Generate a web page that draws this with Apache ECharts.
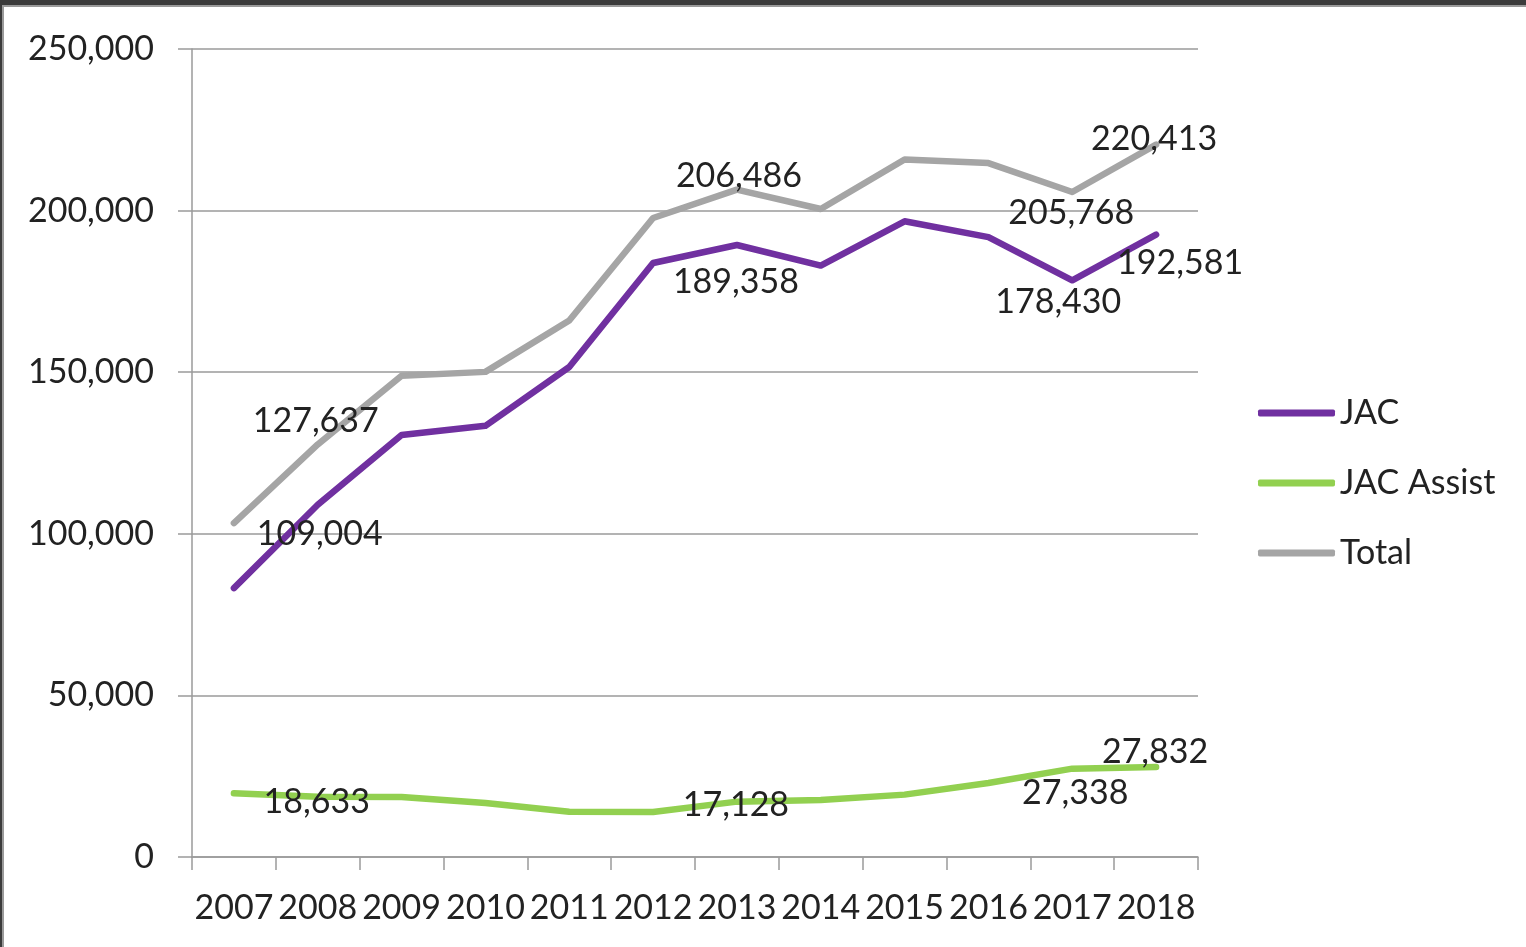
<!DOCTYPE html>
<html>
<head>
<meta charset="utf-8">
<script src="https://cdn.jsdelivr.net/npm/echarts@6/dist/echarts.min.js"></script>
<style>
  html, body { margin: 0; padding: 0; background: #ffffff; }
  #chart { position: absolute; left: 0; top: 0; width: 1526px; height: 947px; }
  .frame { position: absolute; pointer-events: none; }
</style>
</head>
<body>
<div id="chart"></div>
<div class="frame" style="left:0;top:0;width:1526px;height:5px;background:#3b3b3b;"></div>
<div class="frame" style="left:0;top:5px;width:1526px;height:2px;background:#9a9a9a;"></div>
<div class="frame" style="left:0;top:0;width:2px;height:947px;background:#3b3b3b;"></div>
<div class="frame" style="left:2px;top:5px;width:2px;height:942px;background:#9a9a9a;"></div>
<script>
// ---- data ----
const years = ['2007','2008','2009','2010','2011','2012','2013','2014','2015','2016','2017','2018'];
const jac       = [83200, 109004, 130600, 133400, 151600, 183800, 189358, 183000, 196700, 191800, 178430, 192581];
const jacAssist = [19700, 18633, 18600, 16700, 14000, 13900, 17128, 17600, 19300, 22900, 27338, 27832];
const total     = [103300, 127637, 148900, 150100, 166000, 197700, 206486, 200500, 215800, 214700, 205768, 220413];
const yTicks = { min: 0, max: 250000, interval: 50000 };

// ---- which points carry a data label, and where (offset from the point) ----
const labelOffsets = {
  'JAC':        { 1: [2, 29], 6: [-1, 37], 10: [-14, 22], 11: [24, 28] },
  'JAC Assist': { 1: [-1, 5], 6: [-1, 3], 10: [3, 24], 11: [-1, -15] },
  'Total':      { 1: [-2, -23], 6: [2, -14], 10: [-1, 21], 11: [-2, -6] }
};

const FONT = 'Lato';
const TXT = '#222222';
const fmt = v => Number(v).toLocaleString('en-US');

function buildData(name, values) {
  const spots = labelOffsets[name] || {};
  return values.map((v, i) => {
    if (spots[i]) {
      return {
        value: v,
        label: {
          show: true,
          position: 'inside',
          offset: spots[i],
          formatter: p => fmt(p.value),
          fontFamily: FONT, fontSize: 34, color: TXT
        }
      };
    }
    return v;
  });
}

function lineSeries(name, values, color) {
  return {
    name: name,
    type: 'line',
    data: buildData(name, values),
    symbol: 'circle',
    symbolSize: 1,
    showSymbol: true,
    lineStyle: { color: color, width: 6.5, cap: 'round', join: 'round' },
    itemStyle: { color: color },
    label: { show: false },
    emphasis: { disabled: true },
    z: 2
  };
}

const chart = echarts.init(document.getElementById('chart'), null, { renderer: 'canvas' });
chart.setOption({
  animation: false,
  backgroundColor: 'transparent',
  textStyle: { fontFamily: FONT },
  grid: { left: 192, right: 328, top: 49, bottom: 90, containLabel: false },
  legend: {
    orient: 'vertical',
    left: 1253,
    top: 390,
    icon: 'roundRect',
    itemWidth: 77,
    itemHeight: 7,
    itemGap: 34,
    textStyle: { fontFamily: FONT, fontSize: 34, lineHeight: 36, color: TXT },
    data: ['JAC', 'JAC Assist', 'Total']
  },
  xAxis: {
    type: 'category',
    data: years,
    boundaryGap: true,
    axisLine: { show: true, lineStyle: { color: '#9a9a9a', width: 1.5 } },
    axisTick: { show: true, length: 13, lineStyle: { color: '#9a9a9a', width: 1.5 } },
    axisLabel: { interval: 0, margin: 34, fontFamily: FONT, fontSize: 34, color: TXT },
    splitLine: { show: false }
  },
  yAxis: {
    type: 'value',
    min: yTicks.min,
    max: yTicks.max,
    interval: yTicks.interval,
    axisLine: { show: true, lineStyle: { color: '#9a9a9a', width: 1.5 } },
    axisTick: { show: true, length: 14, lineStyle: { color: '#9a9a9a', width: 1.5 } },
    axisLabel: { margin: 38, fontFamily: FONT, fontSize: 34, color: TXT, formatter: v => fmt(v) },
    splitLine: { show: true, lineStyle: { color: '#9a9a9a', width: 1.5 } }
  },
  series: [
    lineSeries('JAC', jac, '#7030A0'),
    lineSeries('JAC Assist', jacAssist, '#92D050'),
    lineSeries('Total', total, '#A5A5A5')
  ]
});
</script>
</body>
</html>
